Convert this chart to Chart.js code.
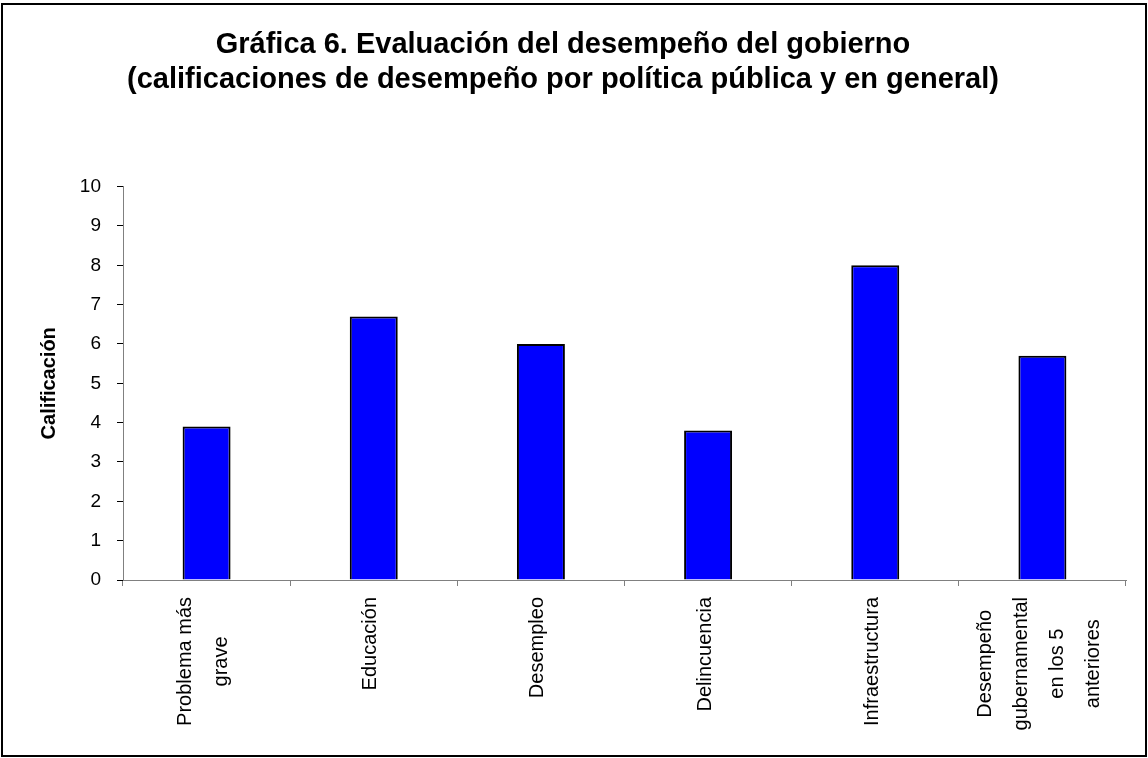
<!DOCTYPE html>
<html>
<head>
<meta charset="utf-8">
<script src="https://cdn.jsdelivr.net/npm/chart.js@4.4.1/dist/chart.umd.min.js"></script>
<style>
html,body{margin:0;padding:0;background:#fff}
canvas{display:block}
</style>
</head>
<body>
<canvas id="grafica" width="1148" height="758"></canvas>
<script>
// categorias (cada linea de la etiqueta por separado)
const categorias = [
  ["Problema más", "grave"],
  ["Educación"],
  ["Desempleo"],
  ["Delincuencia"],
  ["Infraestructura"],
  ["Desempeño", "gubernamental", "en los 5", "anteriores"]
]

const calificaciones = [3.9, 6.7, 6.0, 3.8, 8.0, 5.7]

const escalaMin = 0
const escalaMax = 10
const paso = 1

const titulo = [
  "Gráfica 6. Evaluación del desempeño del gobierno",
  "(calificaciones de desempeño por política pública y en general)"
]
const tituloEje = "Calificación"

const fuente = "'Liberation Sans', Arial, sans-serif"

// fondo blanco y marco
const marco = {
  id: "marco",
  beforeDraw(chart){
    const ctx = chart.ctx
    ctx.save()
    ctx.fillStyle = "#fff"
    ctx.fillRect(0, 0, chart.width, chart.height)
    ctx.restore()
  },
  afterDraw(chart){
    const ctx = chart.ctx
    ctx.save()
    ctx.strokeStyle = "#000"
    ctx.lineWidth = 2
    ctx.strokeRect(2, 4, 1144, 752)
    ctx.restore()
  }
}

// etiquetas verticales del eje x, lineas centradas entre si
const etiquetasX = {
  id: "etiquetasX",
  afterDraw(chart){
    const ctx = chart.ctx
    const x = chart.scales.x
    const arriba = x.top + 17
    ctx.save()
    ctx.font = "20px " + fuente
    ctx.fillStyle = "#000"
    ctx.textAlign = "center"
    ctx.textBaseline = "middle"
    categorias.forEach((lineas, i) => {
      const cx = x.getPixelForValue(i) - 3
      const ancho = Math.max(...lineas.map(l => ctx.measureText(l).width))
      const y = arriba + ancho / 2
      lineas.forEach((linea, j) => {
        const lx = cx + (j - (lineas.length - 1) / 2) * 36
        ctx.save()
        ctx.translate(lx, y)
        ctx.rotate(-Math.PI / 2)
        ctx.fillText(linea, 0, 0)
        ctx.restore()
      })
    })
    ctx.restore()
  }
}

new Chart(document.getElementById("grafica"), {
  type: "bar",
  data: {
    labels: categorias.map(l => l.join(" ")),
    datasets: [{
      data: calificaciones,
      backgroundColor: "#0000ff",
      borderColor: "#000",
      borderWidth: 2,
      categoryPercentage: 1,
      barPercentage: 0.287
    }]
  },
  options: {
    responsive: false,
    animation: false,
    layout: { padding: { top: 4, left: 0, right: 22, bottom: 0 } },
    plugins: {
      legend: { display: false },
      tooltip: { enabled: false },
      title: {
        display: true,
        text: titulo,
        color: "#000",
        font: { family: fuente, size: 29, weight: "bold", lineHeight: 1.2 },
        padding: { top: 24, bottom: 89 }
      }
    },
    scales: {
      x: {
        grid: { drawOnChartArea: false, drawTicks: true, tickLength: 6, color: "#808080", offset: true },
        border: { color: "#808080", width: 1 },
        ticks: { display: false },
        afterFit(s){ s.height = 178 }
      },
      y: {
        min: escalaMin,
        max: escalaMax,
        ticks: { stepSize: paso, color: "#000", padding: 16, font: { family: fuente, size: 19 } },
        grid: { drawOnChartArea: false, tickLength: 6, color: "#000" },
        border: { color: "#808080", width: 1 },
        title: {
          display: true,
          text: tituloEje,
          color: "#000",
          font: { family: fuente, size: 20, weight: "bold", lineHeight: 1.2 },
          padding: { top: 37, bottom: 0 }
        },
        afterFit(s){ s.width = 123 }
      }
    }
  },
  plugins: [marco, etiquetasX]
})
</script>
</body>
</html>
